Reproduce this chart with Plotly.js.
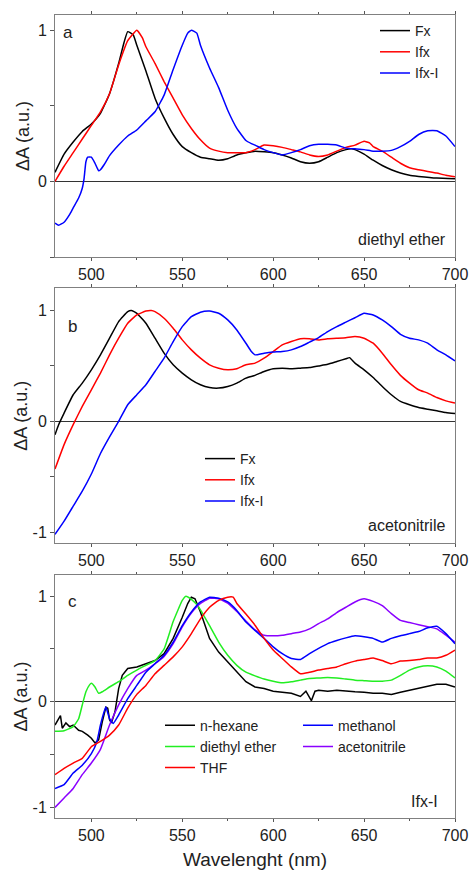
<!DOCTYPE html>
<html><head><meta charset="utf-8">
<script src="https://cdn.plot.ly/plotly-3.0.1.min.js"></script>
<style>html,body{margin:0;padding:0;background:#fff}#plot{width:469px;height:871px}</style>
</head><body><div id="plot"></div>
<script>
// ---- Panel a : diethyl ether ----
const aFxWl = [480,485,490,495,500,505,510,515,518,520,523,525,530,535,540,545,550,555,560,565,570,575,580,590,600,605,610,615,620,625,630,635,640,643,645,650,655,660,665,670,675,680,690,700];
const aFxVal = [0.06,0.18,0.26,0.33,0.38,0.45,0.58,0.78,0.92,0.99,0.97,0.90,0.73,0.55,0.42,0.31,0.23,0.19,0.16,0.15,0.14,0.15,0.175,0.20,0.19,0.175,0.155,0.13,0.12,0.13,0.16,0.19,0.21,0.215,0.21,0.18,0.14,0.105,0.077,0.055,0.04,0.033,0.022,0.018];
const aIfxWl = [480,485,490,495,500,505,510,515,520,525,528,530,535,540,545,550,555,560,565,570,575,580,585,590,595,600,605,610,615,620,625,630,635,640,645,650,653,655,660,665,670,675,680,685,690,695,700];
const aIfxVal = [0.0,0.10,0.19,0.28,0.37,0.46,0.58,0.77,0.93,1.0,0.95,0.89,0.78,0.66,0.55,0.44,0.35,0.275,0.22,0.20,0.19,0.19,0.19,0.21,0.24,0.235,0.225,0.21,0.195,0.175,0.165,0.175,0.20,0.225,0.24,0.265,0.255,0.23,0.20,0.16,0.12,0.09,0.077,0.066,0.055,0.04,0.03];
const aIfxIWl = [480,482,485,488,490,493,495,496,497,498,500,502,504,505,507,510,515,520,525,530,535,540,545,550,553,555,558,560,565,570,575,580,585,588,590,595,600,605,610,615,620,625,630,635,640,645,650,655,660,665,670,675,680,685,690,695,700];
const aIfxIVal = [-0.275,-0.29,-0.27,-0.22,-0.175,-0.11,-0.045,0.02,0.13,0.16,0.16,0.12,0.07,0.077,0.11,0.17,0.24,0.30,0.34,0.40,0.46,0.57,0.74,0.90,0.98,1.0,0.98,0.90,0.75,0.62,0.47,0.35,0.27,0.25,0.24,0.21,0.19,0.175,0.19,0.21,0.235,0.245,0.245,0.24,0.22,0.215,0.21,0.20,0.20,0.205,0.23,0.265,0.31,0.335,0.335,0.30,0.23];

// ---- Panel b : acetonitrile ----
const bFxWl = [480,482,485,490,495,500,505,510,515,520,522,525,530,535,540,545,550,555,560,565,570,575,580,585,590,595,600,605,610,615,620,625,630,635,640,642,645,650,655,660,665,670,675,680,685,690,695,700];
const bFxVal = [-0.12,-0.03,0.075,0.24,0.345,0.465,0.60,0.75,0.90,0.99,1.0,0.975,0.885,0.75,0.615,0.51,0.435,0.375,0.33,0.305,0.30,0.315,0.345,0.39,0.415,0.45,0.475,0.48,0.475,0.48,0.485,0.50,0.515,0.54,0.565,0.575,0.525,0.465,0.395,0.315,0.24,0.18,0.15,0.125,0.11,0.095,0.08,0.07];
const bIfxWl = [480,485,490,495,500,505,510,515,520,525,530,533,535,540,545,550,555,560,565,570,575,580,585,590,595,600,605,610,615,620,625,630,635,640,645,650,655,660,665,670,675,680,685,690,695,700];
const bIfxVal = [-0.43,-0.21,-0.03,0.135,0.285,0.435,0.60,0.75,0.885,0.96,0.995,1.0,0.99,0.93,0.84,0.735,0.645,0.57,0.51,0.48,0.465,0.475,0.51,0.525,0.57,0.63,0.69,0.72,0.745,0.745,0.735,0.745,0.75,0.755,0.765,0.75,0.705,0.615,0.51,0.415,0.345,0.285,0.255,0.215,0.185,0.165];
const bIfxIWl = [480,485,490,495,500,505,510,515,520,525,530,535,540,545,550,555,560,565,570,575,580,585,588,590,595,600,605,610,615,620,625,630,635,640,645,650,655,660,665,670,675,680,685,690,695,700];
const bIfxIVal = [-1.02,-0.9,-0.765,-0.63,-0.475,-0.29,-0.14,0.0,0.15,0.24,0.33,0.45,0.57,0.72,0.855,0.945,0.985,0.995,0.975,0.915,0.825,0.705,0.63,0.60,0.615,0.625,0.63,0.645,0.675,0.715,0.755,0.81,0.855,0.895,0.935,0.975,0.96,0.915,0.855,0.785,0.75,0.735,0.705,0.645,0.60,0.545];

// ---- Panel c : Ifx-I in solvents ----
const cHexWl = [480,482,483,484,486,488,490,493,495,498,500,502,504,506,508,509,510,511,513,515,517,520,525,530,535,540,545,550,553,555,557,560,563,565,570,575,580,585,590,595,600,605,610,615,618,621,623,625,630,635,640,645,650,655,660,665,670,675,680,685,690,695,700];
const cHexVal = [-0.22,-0.16,-0.13,-0.25,-0.2,-0.235,-0.22,-0.27,-0.28,-0.315,-0.345,-0.39,-0.36,-0.19,-0.05,-0.06,-0.17,-0.2,-0.095,0.125,0.25,0.315,0.33,0.36,0.39,0.455,0.60,0.80,0.93,0.99,0.975,0.85,0.69,0.60,0.47,0.38,0.28,0.19,0.14,0.125,0.10,0.09,0.08,0.05,0.10,0.01,0.10,0.11,0.10,0.11,0.10,0.095,0.09,0.08,0.08,0.07,0.09,0.11,0.13,0.15,0.165,0.165,0.14];
const cEthWl = [480,485,490,493,495,497,499,500,502,504,506,510,515,520,525,530,535,540,545,550,552,555,558,560,565,570,575,580,585,590,595,600,605,610,615,620,625,630,635,640,645,650,655,660,665,670,675,680,685,690,695,700];
const cEthVal = [-0.28,-0.275,-0.235,-0.16,-0.03,0.095,0.16,0.175,0.14,0.08,0.095,0.14,0.19,0.25,0.30,0.345,0.39,0.50,0.76,0.96,1.0,0.97,0.92,0.87,0.72,0.565,0.44,0.345,0.28,0.245,0.215,0.195,0.18,0.19,0.205,0.22,0.225,0.23,0.225,0.215,0.205,0.20,0.195,0.195,0.205,0.25,0.30,0.33,0.34,0.33,0.29,0.225];
const cThfWl = [480,485,490,495,500,505,510,515,520,525,530,535,540,545,550,555,560,565,570,575,578,580,585,590,595,600,605,610,615,620,625,630,635,640,645,650,655,660,665,670,675,680,685,690,695,700];
const cThfVal = [-0.69,-0.63,-0.58,-0.535,-0.425,-0.375,-0.315,-0.22,-0.06,0.07,0.155,0.265,0.345,0.425,0.52,0.645,0.785,0.895,0.96,0.99,0.99,0.93,0.83,0.725,0.60,0.49,0.41,0.33,0.265,0.28,0.30,0.315,0.33,0.36,0.385,0.40,0.415,0.39,0.36,0.385,0.39,0.40,0.415,0.415,0.44,0.49];
const cMeoWl = [480,485,490,495,500,503,505,507,508,510,512,515,520,525,530,535,540,545,550,555,560,565,570,575,580,585,590,595,600,605,610,615,620,625,630,635,640,645,650,655,660,665,670,675,680,685,690,695,700];
const cMeoVal = [-0.82,-0.785,-0.675,-0.6,-0.49,-0.38,-0.22,-0.095,-0.05,-0.16,-0.205,-0.125,0.03,0.155,0.28,0.36,0.44,0.565,0.72,0.85,0.945,0.99,0.98,0.945,0.865,0.755,0.675,0.60,0.52,0.455,0.41,0.40,0.455,0.505,0.55,0.58,0.605,0.625,0.615,0.60,0.565,0.60,0.625,0.645,0.665,0.70,0.715,0.645,0.55];
const cAcnWl = [480,485,490,495,500,505,510,515,520,525,530,535,540,545,550,555,560,565,570,575,580,585,590,595,600,605,610,615,620,625,630,635,640,645,650,655,660,665,670,675,680,685,690,695,700];
const cAcnVal = [-1.0,-0.91,-0.82,-0.69,-0.58,-0.45,-0.22,-0.03,0.125,0.25,0.30,0.36,0.43,0.55,0.71,0.84,0.93,0.98,0.975,0.935,0.855,0.765,0.68,0.63,0.625,0.63,0.645,0.66,0.69,0.74,0.785,0.845,0.895,0.945,0.975,0.95,0.91,0.835,0.77,0.75,0.73,0.71,0.69,0.63,0.565];

const seriesNames = ['Fx','Ifx','Ifx-I'];
const solventNames = ['n-hexane','diethyl ether','THF','methanol','acetonitrile'];
const panelLabels = ['a','b','c'];
const panelSolvents = ['diethyl ether','acetonitrile','Ifx-I'];

const FONT = 'Liberation Sans, Arial, sans-serif';
function tr(x, y, name, color, xa, ya, leg, rank, shape){
  return {x:x, y:y, name:name, type:'scatter', mode:'lines',
    line:{color:color, width:1.5, shape:shape || 'spline', smoothing:0.4},
    xaxis:xa, yaxis:ya, legend:leg, legendrank:rank};
}
const data = [
  tr(aFxWl, aFxVal, seriesNames[0], '#000000', 'x', 'y', 'legend', 1),
  tr(aIfxWl, aIfxVal, seriesNames[1], '#ff0000', 'x', 'y', 'legend', 2),
  tr(aIfxIWl, aIfxIVal, seriesNames[2], '#0000ff', 'x', 'y', 'legend', 3),
  tr(bFxWl, bFxVal, seriesNames[0], '#000000', 'x2', 'y2', 'legend2', 1),
  tr(bIfxWl, bIfxVal, seriesNames[1], '#ff0000', 'x2', 'y2', 'legend2', 2),
  tr(bIfxIWl, bIfxIVal, seriesNames[2], '#0000ff', 'x2', 'y2', 'legend2', 3),
  tr(cHexWl, cHexVal, solventNames[0], '#000000', 'x3', 'y3', 'legend3', 1, 'linear'),
  tr(cEthWl, cEthVal, solventNames[1], '#22ee22', 'x3', 'y3', 'legend3', 3),
  tr(cAcnWl, cAcnVal, solventNames[4], '#8a00ff', 'x3', 'y3', 'legend3', 4),
  tr(cMeoWl, cMeoVal, solventNames[3], '#0000ff', 'x3', 'y3', 'legend3', 2),
  tr(cThfWl, cThfVal, solventNames[2], '#ff0000', 'x3', 'y3', 'legend3', 5)
];

function xax(anchor, withTitle){
  const o = {anchor:anchor, domain:[0,1], range:[480,700], tickmode:'linear', tick0:500, dtick:50,
    ticks:'outside', ticklen:3, tickcolor:'#555', showline:true, linecolor:'#808080', linewidth:1,
    mirror:'ticks', showgrid:false, zeroline:false,
    minor:{dtick:25, tick0:475, ticks:'outside', ticklen:2, tickcolor:'#555'},
    tickfont:{family:FONT, size:16, color:'#222'}};
  if (withTitle) o.title = {text:'Wavelenght (nm)', font:{family:FONT, size:19, color:'#222'}, standoff:9};
  return o;
}
function yax(anchor, dom, rng, tv, tt, so){
  return {anchor:anchor, domain:dom, range:rng, tickmode:'array', tickvals:tv, ticktext:tt,
    ticks:'outside', ticklen:4, tickcolor:'#555', showline:true, linecolor:'#808080', linewidth:1, mirror:true,
    showgrid:false, zeroline:true, zerolinecolor:'#333', zerolinewidth:1,
    tickfont:{family:FONT, size:16, color:'#222'},
    title:{text:'ΔA (a.u.)', font:{family:FONT, size:18, color:'#222'}, standoff:so}};
}
const legFont = {family:FONT, size:14, color:'#222'};
const layout = {
  width:469, height:871, margin:{l:55, r:14, t:15, b:53},
  font:{family:FONT, color:'#222'},
  xaxis: xax('y', false),
  yaxis: yax('x', [0.6986,1], [-0.5,1.1], [-0.5,0,0.5,1], ['','0','','1'], 3),
  xaxis2: xax('y2', false),
  yaxis2: yax('x2', [0.3421,0.6596], [-1.1,1.2], [-1,-0.5,0,0.5,1], ['-1','','0','','1'], 0),
  xaxis3: xax('y3', true),
  yaxis3: yax('x3', [0,0.3026], [-1.1,1.2], [-1,-0.5,0,0.5,1], ['-1','','0','','1'], 0),
  legend:{x:0.80, y:1.0, xanchor:'left', yanchor:'top', font:legFont},
  legend2:{x:0.3625, y:0.467, xanchor:'left', yanchor:'top', font:legFont},
  legend3:{x:0.2625, y:0.135, xanchor:'left', yanchor:'top', orientation:'h', entrywidth:93, entrywidthmode:'pixels', font:legFont},
  annotations:[
    {xref:'x domain', yref:'y domain', x:0.014, y:0.926, xanchor:'left', yanchor:'middle', text:panelLabels[0], showarrow:false, font:{family:FONT, size:17, color:'#222'}},
    {xref:'x2 domain', yref:'y2 domain', x:0.027, y:0.849, xanchor:'left', yanchor:'middle', text:panelLabels[1], showarrow:false, font:{family:FONT, size:17, color:'#222'}},
    {xref:'x3 domain', yref:'y3 domain', x:0.027, y:0.89, xanchor:'left', yanchor:'middle', text:panelLabels[2], showarrow:false, font:{family:FONT, size:17, color:'#222'}},
    {xref:'x domain', yref:'y domain', x:0.982, y:0.073, xanchor:'right', yanchor:'middle', text:panelSolvents[0], showarrow:false, font:{family:FONT, size:16, color:'#222'}},
    {xref:'x2 domain', yref:'y2 domain', x:0.979, y:0.068, xanchor:'right', yanchor:'middle', text:panelSolvents[1], showarrow:false, font:{family:FONT, size:16, color:'#222'}},
    {xref:'x3 domain', yref:'y3 domain', x:0.9625, y:0.066, xanchor:'right', yanchor:'middle', text:panelSolvents[2], showarrow:false, font:{family:FONT, size:16, color:'#222'}}
  ]
};
Plotly.newPlot('plot', data, layout, {staticPlot:true});
</script></body></html>
